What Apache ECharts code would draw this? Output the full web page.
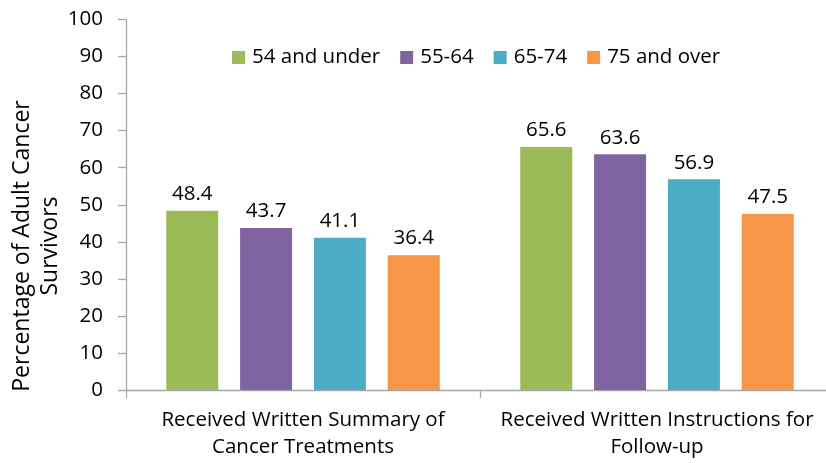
<!DOCTYPE html>
<html>
<head>
<meta charset="utf-8">
<script src="https://cdn.jsdelivr.net/npm/echarts@6/dist/echarts.min.js"></script>
<style>
  html, body { margin: 0; padding: 0; background: #fff; }
  #chart { width: 826px; height: 463px; }
</style>
</head>
<body>
<div id="chart"></div>
<script>
// Survey measures (x-axis categories)
const categories = [
  'Received Written Summary of\nCancer Treatments',
  'Received Written Instructions for\nFollow-up'
];

// Age groups and their percentages
const ageGroups = ['54 and under', '55-64', '65-74', '75 and over'];
const under54 = [48.4, 65.6];
const age55to64 = [43.7, 63.6];
const age65to74 = [41.1, 56.9];
const over75 = [36.4, 47.5];

const yTicks = { min: 0, max: 100, interval: 10 };

const colors = ['#9BBB59', '#8064A2', '#4BACC6', '#F79646'];
const seriesValues = [under54, age55to64, age65to74, over75];
const FONT = '"Open Sans", sans-serif';

const chart = echarts.init(document.getElementById('chart'), null, { renderer: 'canvas' });

chart.setOption({
  animation: false,
  textStyle: { fontFamily: FONT, color: '#000' },
  grid: {
    left: 126, width: 708, top: 19.5, bottom: 73,
    containLabel: false, outerBoundsMode: 'none'
  },
  legend: {
    data: ageGroups,
    left: 227,
    top: 42,
    itemWidth: 13,
    itemHeight: 13,
    itemGap: 20,
    icon: 'rect',
    textStyle: { fontFamily: FONT, fontSize: 20.5, color: '#000', padding: [0, 0, 0, 2] }
  },
  xAxis: {
    type: 'category',
    data: categories,
    axisLine: { lineStyle: { color: '#A6A6A6', width: 1.3 } },
    axisTick: { show: true, length: 8, lineStyle: { color: '#A6A6A6', width: 1.3 } },
    axisLabel: {
      interval: 0,
      fontFamily: FONT, fontSize: 20.5, color: '#000', lineHeight: 27, margin: 17
    }
  },
  yAxis: {
    type: 'value',
    min: yTicks.min,
    max: yTicks.max,
    interval: yTicks.interval,
    splitLine: { show: false },
    axisLine: { show: true, lineStyle: { color: '#A6A6A6', width: 1.3 } },
    axisTick: { show: true, length: 8, lineStyle: { color: '#A6A6A6', width: 1.3 } },
    axisLabel: { fontFamily: FONT, fontSize: 20.5, color: '#000', margin: 23 }
  },
  graphic: [{
    type: 'text',
    x: 36,
    y: 246,
    rotation: Math.PI / 2,
    style: {
      text: 'Percentage of Adult Cancer\nSurvivors',
      fontFamily: FONT,
      fontSize: 23,
      lineHeight: 28,
      fill: '#000',
      align: 'center',
      verticalAlign: 'middle'
    }
  }],
  series: ageGroups.map((name, i) => ({
    name,
    type: 'bar',
    data: seriesValues[i],
    barWidth: 52,
    barGap: '42%',
    itemStyle: { color: colors[i] },
    label: {
      show: true,
      position: 'top',
      distance: 6,
      fontFamily: FONT,
      fontSize: 20.5,
      color: '#000',
      formatter: p => p.value.toFixed(1)
    }
  }))
});
</script>
</body>
</html>
